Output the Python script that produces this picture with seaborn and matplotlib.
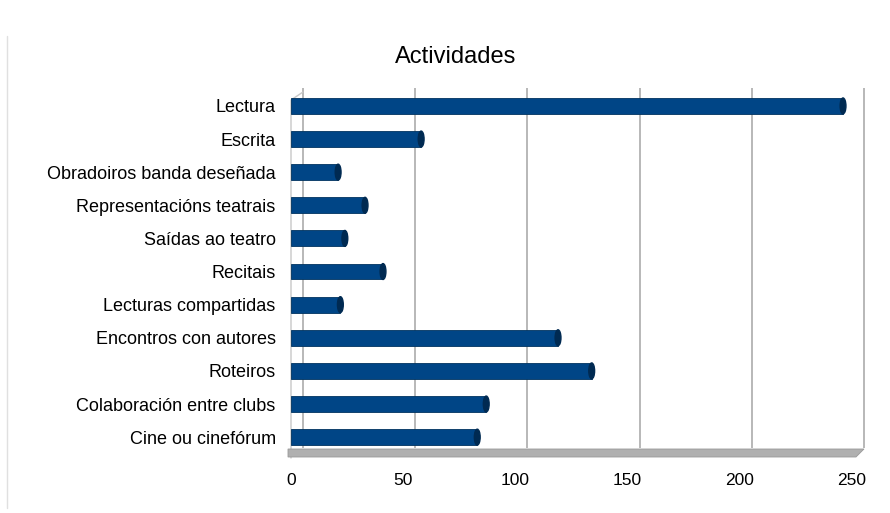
import matplotlib
matplotlib.use("Agg")
import matplotlib.pyplot as plt
import matplotlib.transforms as mtransforms
from matplotlib.patches import Ellipse, Polygon
import seaborn as sns

categories = ['Lectura', 'Escrita', 'Obradoiros banda deseñada',
              'Representacións teatrais', 'Saídas ao teatro', 'Recitais',
              'Lecturas compartidas', 'Encontros con autores', 'Roteiros',
              'Colaboración entre clubs', 'Cine ou cinefórum']
values = [246, 58, 21, 33, 24, 41, 22, 119, 134, 87, 83]
x_ticks = [0, 50, 100, 150, 200, 250]

sns.set_style("white")
plt.rcParams['font.family'] = ['Liberation Sans', 'DejaVu Sans']
plt.rcParams['text.color'] = 'black'
plt.rcParams['xtick.color'] = 'black'
plt.rcParams['ytick.color'] = 'black'

fig = plt.figure(figsize=(8.9, 5.13), dpi=100)
ax = fig.add_axes([291 / 890, 55 / 513, 561 / 890, 366 / 513])

bar_color = "#004586"
sns.barplot(x=values, y=categories, orient='h', color=bar_color,
            saturation=1, width=0.48, ax=ax, zorder=3,
            edgecolor="#00335f", linewidth=0.6)

ax.set_xlim(0, 250)
ax.set_ylim(10.63, -0.42)
ax.set_xticks(x_ticks)
ax.set_xticklabels([str(t) for t in x_ticks])
ax.set_xlabel("")
ax.set_ylabel("")
ax.tick_params(axis='y', length=0, pad=11, labelsize=13, labelcolor='black')
ax.tick_params(axis='x', length=0, pad=11, labelsize=12.5, labelcolor='black')
for s in ax.spines.values():
    s.set_visible(False)
ax.grid(False)

# end caps so the bars look like cylinders
for p in ax.patches:
    x_end = p.get_x() + p.get_width()
    yc = p.get_y() + p.get_height() / 2
    cap = Ellipse((x_end, yc), width=2.6, height=p.get_height(),
                  facecolor="#002a52", edgecolor="#002a52", zorder=4)
    ax.add_patch(cap)

# back wall gridlines, shifted like in the perspective view
back = mtransforms.offset_copy(ax.transData, fig=fig, x=12, y=0, units='dots')
grid_trans = mtransforms.blended_transform_factory(back, ax.transAxes)
y_floor = 10 / 366
y_top = 370 / 366
ax.vlines(x_ticks, y_floor, y_top, transform=grid_trans,
          colors="#b8b8b8", linewidth=1.4, zorder=1, clip_on=False)

# left wall edge
ax.plot([0, 0, 12 / 561], [0, 358 / 366, 366 / 366], transform=ax.transAxes,
        color="#c8c8c8", linewidth=1, zorder=1, clip_on=False)

# floor
floor = Polygon([(-3 / 561, 9 / 366), (573 / 561, 9 / 366),
                 (565 / 561, 1 / 366), (-3 / 561, 1 / 366)],
                closed=True, transform=ax.transAxes, facecolor="#b0b0b0",
                edgecolor="#999999", linewidth=0.6, zorder=2, clip_on=False)
ax.add_patch(floor)

fig.text(456 / 890, 1 - 57 / 513, "Actividades", ha='center', va='center',
         fontsize=17)

# thin frame line on the left like the source image
fig.add_artist(plt.Line2D([7 / 890, 7 / 890], [0.01, 0.93], color="#e0e0e0",
                          linewidth=1))

plt.savefig("out.png", dpi=100)
